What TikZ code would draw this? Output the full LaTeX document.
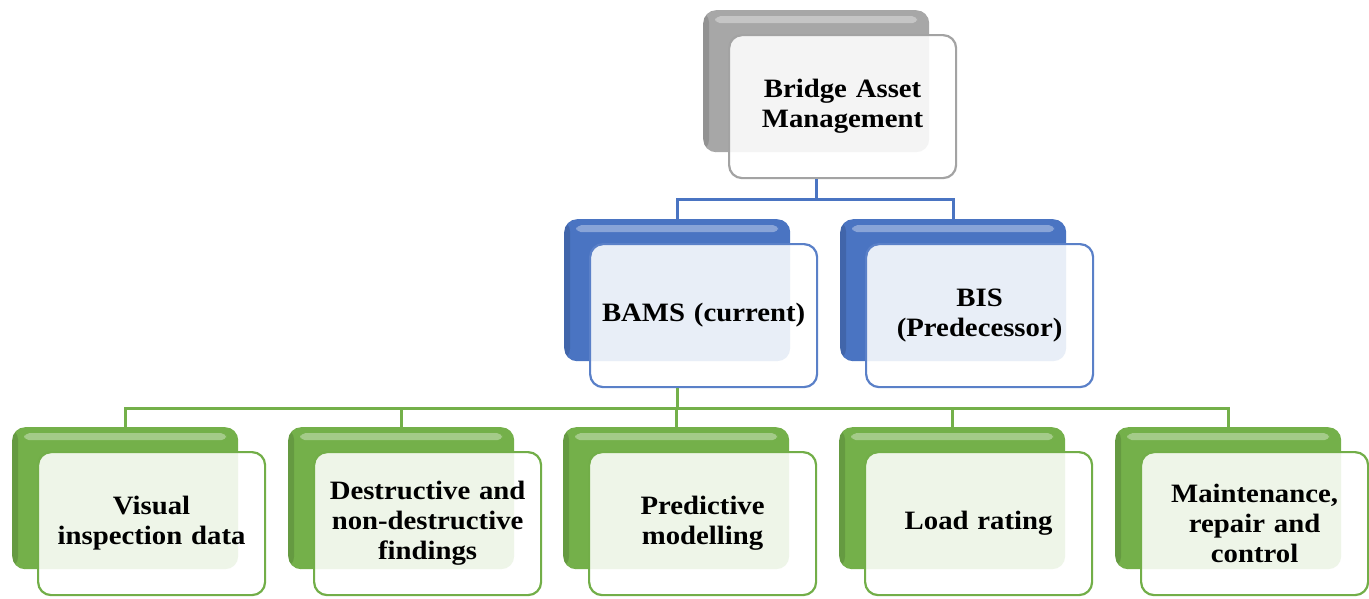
\documentclass[tikz,border=0pt]{standalone}
\usepackage{fontspec}
\setmainfont{Liberation Serif}[FakeStretch=1.085]
\usetikzlibrary{calc}
\definecolor{grayB}{HTML}{A7A7A7}
\definecolor{grayF}{HTML}{A3A3A3}
\definecolor{blueB}{HTML}{4A74C2}
\definecolor{blueF}{HTML}{5A80C8}
\definecolor{greenB}{HTML}{74B04A}
\definecolor{greenF}{HTML}{72AE48}
\tikzset{
  backbox/.style={rectangle, rounded corners=13pt, minimum width=226pt, minimum height=142pt,
    anchor=north west, inner sep=0pt, fill=#1,
    path picture={
      \fill[white,opacity=0.35,rounded corners=5pt]
        ($(path picture bounding box.north west)+(12pt,-6pt)$) rectangle
        ($(path picture bounding box.north east)+(-12pt,-13pt)$);
      \fill[black,opacity=0.12]
        ($(path picture bounding box.north west)$) rectangle
        ($(path picture bounding box.south west)+(6pt,0)$);
    }},
  frontbox/.style={rectangle, rounded corners=13pt, minimum width=227pt, minimum height=143pt,
    anchor=north west, inner sep=2pt, draw=#1, line width=2.2pt, fill=white, fill opacity=0.88,
    text opacity=1, text width=210pt, align=center,
    font=\fontsize{26.5}{30}\selectfont\bfseries},
  conn/.style={draw=#1, line width=2.6pt},
}
\newcommand\tierunit[5]{%
  \node[backbox=#4B] (#1b) at (#2,#3) {};
  \node[frontbox=#4F] (#1) at (#2+25,#3+24) {#5};
}
\begin{document}
\begin{tikzpicture}[x=1pt,y=-1pt]
\useasboundingbox (0,0) rectangle (1369,598);
\tierunit{top}{703}{10}{gray}{Bridge Asset\\Management}
\tierunit{bams}{564}{219}{blue}{BAMS (current)}
\tierunit{bis}{840}{219}{blue}{BIS\\(Predecessor)}
\tierunit{c1}{12}{427}{green}{Visual\\inspection data}
\tierunit{c2}{288}{427}{green}{Destructive and\\non-destructive\\findings}
\tierunit{c3}{563}{427}{green}{Predictive\\modelling}
\tierunit{c4}{839}{427}{green}{Load rating}
\tierunit{c5}{1115}{427}{green}{Maintenance,\\repair and\\control}
% blue connectors
\draw[conn=blueB] (topb.south |- top.south) -- ++(0,20) coordinate (j1);
\draw[conn=blueB] (j1) -| (bamsb.north);
\draw[conn=blueB] (j1) -| (bisb.north);
% green connectors
\draw[conn=greenB] (bamsb.south |- bams.south) -- ++(0,20) coordinate (j2);
\foreach \c in {c1,c2,c3,c4,c5}{
  \draw[conn=greenB] (j2) -| (\c b.north);
}
\end{tikzpicture}
\end{document}
